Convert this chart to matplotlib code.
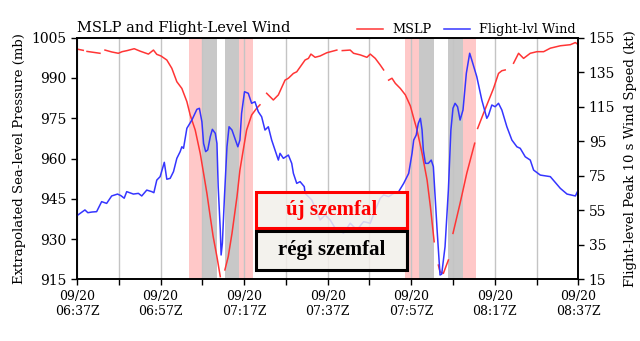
import matplotlib
matplotlib.use("Agg")
import matplotlib.pyplot as plt
import matplotlib.dates as mdates
from matplotlib.patches import Rectangle
import numpy as np
import pandas as pd

nan = np.nan
start = pd.Timestamp("2017-09-20 06:37")

# (minutes after 06:37Z, value); nan = missing data
mslp_pts = [(0.2, 1000.7), (1.5, 1000.3), (2.0, nan), (2.4, 999.9), (5.5, 999.2), (6.2, nan),
            (6.7, 1000.4), (8.3, 999.7), (9.9, 999.2), (10.8, 999.8), (12.0, 1000.2),
            (13.7, 1000.9), (15.1, 1000.0), (17.1, 998.9), (18.3, 1000.4), (19.1, 998.8),
            (20.1, 998.2), (21.5, 996.7), (22.7, 993.6), (23.9, 988.6), (25.1, 986.1),
            (26.3, 981.2), (27.1, 976.2), (28.3, 970.6), (29.5, 961.9), (30.3, 954.5),
            (31.1, 947.0), (31.9, 938.3), (32.6, 930.9), (33.5, 923.4), (34.3, 916.0),
            (34.9, nan), (35.4, 918.5), (36.2, 923.4), (37.1, 932.1), (38.3, 945.8),
            (39.0, 955.7), (39.8, 963.2), (40.6, 970.6), (41.8, 976.2), (43.0, 978.7),
            (43.8, 980.0), (44.6, nan), (45.4, 984.3), (47.0, 981.8), (48.2, 983.7),
            (49.8, 989.2), (50.6, 989.9), (51.8, 991.7), (52.6, 992.3), (54.6, 996.7),
            (55.4, 997.3), (56.0, 998.9), (57.0, 997.7), (58.2, 998.2), (59.8, 999.4),
            (62.2, 1000.4), (62.7, nan), (63.5, 1000.2), (65.4, 1000.4), (66.2, 999.2),
            (67.8, 998.6), (69.4, 997.7), (70.2, 998.9), (71.4, 997.3), (72.6, 994.8),
            (73.4, 993.0), (74.0, nan), (74.6, 989.2), (75.4, 989.9), (76.2, 988.0),
            (77.4, 986.1), (78.6, 983.7), (79.8, 979.6), (80.6, 975.0), (81.4, 970.6),
            (82.6, 961.9), (83.8, 952.0), (84.6, 942.0), (85.5, 929.0), (86.0, nan),
            (86.5, 920.3), (86.9, 917.8), (87.7, 917.2), (88.9, 922.2), (89.5, nan),
            (90.0, 932.1), (91.7, 943.3), (93.3, 954.5), (95.2, 965.7), (95.5, nan),
            (95.9, 971.2), (97.3, 976.8), (99.7, 986.1), (100.9, 991.7), (101.7, 992.7),
            (102.5, 993.0), (103.5, nan), (104.5, 995.5), (105.7, 999.2), (106.9, 997.3),
            (108.5, 999.2), (110.1, 999.8), (111.7, 999.8), (113.3, 1001.1), (115.7, 1002.0),
            (118.1, 1002.4), (119.3, 1003.2), (120.0, 1002.4)]

wind_pts = [(0.0, 51.9), (1.0, 53.6), (1.9, 55.2), (2.6, 53.6), (3.6, 54.0), (4.7, 54.2),
            (5.9, 60.0), (7.1, 59.0), (8.3, 63.3), (9.7, 64.4), (10.5, 63.5), (11.3, 62.0),
            (11.9, 65.8), (13.5, 64.4), (14.7, 64.8), (15.5, 63.3), (16.7, 66.7), (17.9, 65.8),
            (18.4, 65.2), (19.1, 72.5), (19.9, 74.5), (20.9, 82.8), (21.5, 73.0), (22.3, 73.5),
            (23.1, 77.4), (23.9, 85.1), (24.7, 89.0), (25.1, 91.8), (25.5, 90.9), (26.3, 102.5),
            (27.5, 107.3), (28.7, 113.5), (29.3, 114.1), (29.9, 106.3), (30.3, 93.8),
            (30.8, 89.0), (31.3, 90.0), (31.9, 97.6), (32.4, 101.9), (33.1, 99.6), (33.5, 93.8),
            (33.8, 68.7), (34.3, 43.6), (34.5, 29.1), (34.8, 35.9), (35.3, 62.9), (35.9, 91.8),
            (36.4, 103.4), (37.1, 101.5), (37.8, 96.7), (38.5, 91.8), (39.0, 95.7),
            (39.4, 111.2), (40.1, 123.7), (41.0, 122.8), (41.8, 117.0), (42.6, 117.9),
            (43.4, 112.1), (44.2, 109.2), (45.0, 101.5), (45.8, 103.4), (46.6, 95.7),
            (47.4, 89.9), (48.2, 84.1), (48.6, 88.0), (49.4, 85.1), (50.6, 87.0), (51.4, 82.2),
            (51.8, 76.4), (52.6, 70.6), (53.4, 71.6), (54.4, 68.7), (54.6, 64.8), (56.2, 61.0),
            (57.4, 54.2), (58.2, 49.4), (59.4, 52.3), (60.6, 49.4), (61.8, 44.6), (62.6, 43.6),
            (63.8, 41.7), (65.4, 47.5), (67.0, 43.6), (68.6, 48.4), (70.2, 47.5), (71.4, 55.2),
            (72.6, 62.0), (73.4, 63.9), (74.6, 62.9), (75.8, 64.8), (77.0, 65.8), (78.2, 70.6),
            (79.4, 76.4), (80.2, 88.0), (80.6, 95.7), (81.2, 98.6), (81.7, 105.4),
            (82.2, 108.3), (82.6, 101.5), (82.9, 89.9), (83.4, 82.2), (84.1, 82.2),
            (84.8, 84.1), (85.3, 80.3), (86.2, 43.6), (86.9, 17.5), (87.3, 18.0), (88.1, 33.9),
            (88.9, 66.8), (89.5, 101.5), (90.0, 114.1), (90.5, 117.0), (91.1, 115.0),
            (91.7, 107.3), (92.4, 113.1), (93.2, 134.4), (94.0, 146.0), (94.5, 142.1),
            (95.7, 132.4), (96.9, 118.9), (98.1, 108.3), (98.5, 110.0), (99.3, 116.0),
            (100.1, 115.0), (100.9, 117.0), (101.7, 113.1), (102.9, 103.4), (104.1, 95.7),
            (105.3, 91.8), (106.1, 90.9), (107.3, 86.0), (108.5, 84.1), (109.3, 78.3),
            (110.9, 75.4), (113.3, 74.5), (115.7, 67.7), (117.3, 64.4), (119.3, 63.3),
            (120.0, 66.8)]

# eyewall passes (minutes): pink = new eyewall, gray = old eyewall
pink_spans = [(26.8, 30.1), (38.8, 42.2), (78.6, 81.9), (92.3, 95.6)]
gray_spans = [(30.1, 33.5), (35.4, 38.8), (81.9, 85.5), (88.9, 92.3)]

box_labels = ["új szemfal", "régi szemfal"]
box_colors = ["red", "black"]


def to_time(m):
    return start + pd.to_timedelta(np.asarray(m, dtype=float), unit="min")


mslp_min, mslp_val = zip(*mslp_pts)
wind_min, wind_val = zip(*wind_pts)

plt.rcParams["font.family"] = "DejaVu Serif"

fig = plt.figure(figsize=(6.4, 3.41), dpi=100)
ax = fig.add_axes([0.1203, 0.1809, 0.7833, 0.7085])
ax2 = ax.twinx()

for a, b in pink_spans:
    ax.axvspan(to_time(a), to_time(b), color="#ffc8c8", lw=0, zorder=0.5)
for a, b in gray_spans:
    ax.axvspan(to_time(a), to_time(b), color="#c8c8c8", lw=0, zorder=0.5)

l1, = ax.plot(to_time(mslp_min), mslp_val, color="#ff3535", lw=1.1, label="MSLP")
l2, = ax2.plot(to_time(wind_min), wind_val, color="#3535ff", lw=1.1, label="Flight-lvl Wind")

ax.set_xlim(start, to_time(120))
ax.set_ylim(915, 1005)
ax2.set_ylim(15, 155)
ax.set_yticks(np.arange(915, 1006, 15))
ax2.set_yticks(np.arange(15, 156, 20))

ax.set_xticks(to_time(np.arange(0, 121, 20)))
ax.set_xticks(to_time(np.arange(10, 121, 20)), minor=True)
ax.xaxis.set_major_formatter(mdates.DateFormatter("%m/%d\n%H:%MZ"))
ax.grid(True, axis="x", which="both", color="#c4c4c4", lw=1)

ax.tick_params(axis="x", which="both", labelsize=9, length=4, width=1)
ax.tick_params(axis="y", labelsize=10, length=4, width=1)
ax2.tick_params(axis="y", labelsize=10, length=4, width=1)
for a in (ax, ax2):
    for s in a.spines.values():
        s.set_linewidth(1.2)

ax.set_ylabel("Extrapolated Sea-level Pressure (mb)", fontsize=9.5, labelpad=4)
ax2.set_ylabel("Flight-level Peak 10 s Wind Speed (kt)", fontsize=9.5, labelpad=6)
ax.set_title("MSLP and Flight-Level Wind", loc="left", fontsize=10.5, pad=4)

ax.legend(handles=[l1, l2], loc="lower right", bbox_to_anchor=(1.0, 0.995), ncol=2,
          frameon=False, fontsize=9.3, handlelength=2.0, columnspacing=1.0,
          handletextpad=0.7, borderaxespad=0, borderpad=0.2)

# annotation boxes laid over the chart
box_y = [0.3305, 0.2082]
box_h = [0.1073, 0.1152]
for txt, col, y0, h in zip(box_labels, box_colors, box_y, box_h):
    fig.patches.append(Rectangle((0.4, y0), 0.2355, h, transform=fig.transFigure,
                                 facecolor="#f2f0ea", alpha=0.85, edgecolor="none", zorder=5))
    fig.patches.append(Rectangle((0.4, y0), 0.2355, h, transform=fig.transFigure,
                                 facecolor="none", edgecolor=col, lw=2.2, zorder=6))
    fig.text(0.4 + 0.2355 / 2, y0 + h / 2, txt, color=col, fontsize=15, fontweight="bold",
             family="Liberation Serif", ha="center", va="center", zorder=7)

fig.savefig("out.png", dpi=100)
